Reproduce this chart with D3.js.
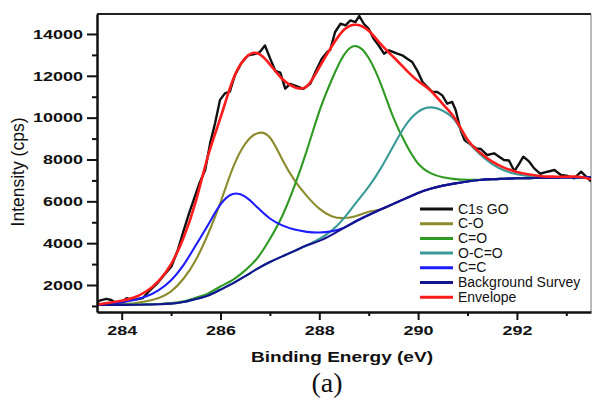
<!DOCTYPE html>
<html>
<head>
<meta charset="utf-8">
<script src="https://cdn.jsdelivr.net/npm/d3@7"></script>
<style>
  body { margin: 0; background: #fff; }
  text { font-family: Arial, "Liberation Sans", sans-serif; }
</style>
</head>
<body>
<svg id="chart" width="592" height="401"></svg>
<script>
// fitted curves share one energy grid (eV)
const energy = [283.5, 283.75, 284, 284.25, 284.5, 284.75, 285, 285.25, 285.5, 285.75,
  286, 286.25, 286.5, 286.75, 287, 287.25, 287.5, 287.75, 288, 288.25,
  288.5, 288.75, 289, 289.25, 289.5, 289.75, 290, 290.25, 290.5, 290.75,
  291, 291.25, 291.5, 291.75, 292, 292.25, 292.5, 292.75, 293, 293.25, 293.5];

const background = [1050, 1050, 1050, 1055, 1065, 1080, 1110, 1190, 1330, 1500,
  1780, 2080, 2420, 2780, 3100, 3370, 3630, 3900, 4110, 4400,
  4730, 5060, 5350, 5620, 5880, 6140, 6400, 6600, 6750, 6860,
  6950, 7020, 7060, 7080, 7100, 7110, 7120, 7130, 7140, 7145, 7150];

const cc = [1080, 1120, 1170, 1280, 1460, 1760, 2230, 2950, 3900, 4880,
  5850, 6350, 6220, 5700, 5180, 4850, 4650, 4540, 4510, 4570,
  4740, 5060, 5350, 5620, 5880, 6140, 6400, 6600, 6750, 6860,
  6950, 7020, 7060, 7080, 7100, 7110, 7120, 7130, 7140, 7145, 7150];

const co = [1060, 1070, 1090, 1130, 1220, 1380, 1700, 2300, 3200, 4450,
  5950, 7600, 8750, 9260, 9050, 8000, 7000, 6250, 5650, 5290,
  5200, 5300, 5500, 5620, 5880, 6140, 6400, 6600, 6750, 6860,
  6950, 7020, 7060, 7080, 7100, 7110, 7120, 7130, 7140, 7145, 7150];

const cdo = [1052, 1053, 1055, 1062, 1075, 1095, 1135, 1220, 1390, 1600,
  1930, 2250, 2700, 3300, 4200, 5300, 6750, 8450, 10300, 11800,
  13000, 13420, 12850, 11580, 10000, 8750, 7800, 7350, 7150, 7060,
  7030, 7030, 7060, 7080, 7100, 7110, 7120, 7130, 7140, 7145, 7150];

const occo = [1050, 1050, 1050, 1055, 1065, 1080, 1110, 1190, 1330, 1500,
  1780, 2080, 2420, 2780, 3100, 3370, 3630, 3900, 4200, 4600,
  5200, 5950, 6700, 7600, 8650, 9650, 10280, 10490, 10330, 9850,
  8900, 8250, 7780, 7470, 7290, 7200, 7160, 7145, 7145, 7148, 7150];

const envelope = [1070, 1150, 1250, 1400, 1700, 2200, 3000, 4250, 6000, 8200,
  10000, 11800, 12850, 13080, 12550, 11850, 11450, 11500, 12400, 13400,
  14200, 14440, 14150, 13500, 12900, 12300, 11750, 11300, 10650, 9950,
  8950, 8330, 7900, 7600, 7400, 7280, 7200, 7180, 7177, 7177, 7050];

// measured spectrum
const rawEnergy = [283.5, 283.55, 283.69, 283.79, 283.89, 283.99, 284.1, 284.2, 284.3, 284.43,
  284.57, 284.71, 284.85, 285.01, 285.14, 285.24, 285.36, 285.48, 285.58, 285.69,
  285.79, 285.89, 285.99, 286.09, 286.19, 286.29, 286.42, 286.56, 286.74, 286.8,
  286.9, 287.01, 287.11, 287.21, 287.31, 287.41, 287.55, 287.68, 287.82, 287.92,
  288.05, 288.16, 288.22, 288.32, 288.43, 288.53, 288.63, 288.73, 288.81, 288.9,
  289, 289.1, 289.2, 289.31, 289.41, 289.58, 289.68, 289.78, 289.88, 289.98,
  290.09, 290.19, 290.29, 290.39, 290.49, 290.59, 290.69, 290.76, 290.86, 290.94,
  291.03, 291.17, 291.27, 291.4, 291.54, 291.64, 291.74, 291.84, 291.95, 292.05,
  292.13, 292.25, 292.35, 292.47, 292.62, 292.76, 292.89, 293.03, 293.16, 293.3,
  293.4, 293.5];
const rawCounts = [1160, 1250, 1340, 1283, 1125, 1160, 1370, 1290, 1320, 1380,
  1750, 2050, 2450, 2900, 3700, 4500, 5400, 6220, 6900, 7500,
  8770, 9730, 10850, 11160, 11250, 12020, 12600, 12980, 13070, 13150,
  13450, 12800, 12230, 12150, 11390, 11620, 11500, 11380, 11630, 12180,
  12820, 13140, 13235, 14094, 14490, 14410, 14650, 14570, 14860, 14490,
  14250, 13770, 13460, 13060, 13220, 13060, 12980, 12820, 12660, 12263,
  11703, 11464, 11225, 11225, 11065, 10665, 10750, 10365, 9410, 8930,
  8773, 8534, 8500, 8214, 8295, 8134, 7975, 7950, 7440, 7817,
  8134, 7895, 7577, 7320, 7416, 7497, 7258, 7210, 7100, 7416,
  7178, 6950];

const xMajor = [284, 286, 288, 290, 292];
const xMinor = [285, 287, 289, 291, 293];
const yMajor = [2000, 4000, 6000, 8000, 10000, 12000, 14000];
const yMinor = [1000, 3000, 5000, 7000, 9000, 11000, 13000];

const legendLabels = ['C1s GO', 'C-O', 'C=O', 'O-C=O', 'C=C', 'Background Survey', 'Envelope'];
const legendColors = ['#111111', '#8c8c2c', '#2e9a22', '#3a9a98', '#1c1cff', '#14148f', '#ff1c1c'];

const L = 97, R = 591, T = 14, B = 312;
const svg = d3.select('#chart');

const x = d3.scaleLinear().domain([283.5, 293.5]).range([L, R]);
const y = d3.scaleLinear().domain([710, 14955]).range([B, T]);

svg.append('clipPath').attr('id', 'plot')
  .append('rect').attr('x', L).attr('y', T).attr('width', R - L).attr('height', B - T);

// frame
svg.append('line').attr('x1', L).attr('x2', R).attr('y1', T).attr('y2', T)
  .attr('stroke', '#222').attr('stroke-width', 2);
svg.append('line').attr('x1', R).attr('x2', R).attr('y1', T).attr('y2', B)
  .attr('stroke', '#777').attr('stroke-width', 1);

const curves = svg.append('g').attr('clip-path', 'url(#plot)');

const fitLine = d3.line()
  .x((d, i) => x(energy[i]))
  .y(d => y(d))
  .curve(d3.curveNatural);

const rawLine = d3.line()
  .x((d, i) => x(rawEnergy[i]))
  .y(d => y(d));

curves.append('path').attr('d', rawLine(rawCounts))
  .attr('fill', 'none').attr('stroke', legendColors[0]).attr('stroke-width', 2.4)
  .attr('stroke-linejoin', 'round');

const fits = [[co, 1], [cdo, 2], [occo, 3], [cc, 4], [background, 5], [envelope, 6]];
fits.forEach(([vals, k]) => {
  curves.append('path').attr('d', fitLine(vals))
    .attr('fill', 'none')
    .attr('stroke', legendColors[k])
    .attr('stroke-width', k == 6 ? 2.6 : 2.1);
});

// axes
svg.append('g').attr('transform', `translate(${L},0)`)
  .call(d3.axisLeft(y).tickValues(yMajor).tickSize(10).tickPadding(4)
    .tickSizeOuter(0).tickFormat(d3.format('d')));
svg.append('g').attr('transform', `translate(${L},0)`)
  .call(d3.axisLeft(y).tickValues(yMinor).tickSize(5).tickFormat(''))
  .select('.domain').remove();

svg.append('g').attr('transform', `translate(0,${B})`)
  .call(d3.axisBottom(x).tickValues(xMajor).tickSize(8).tickPadding(5).tickSizeOuter(0));
svg.append('g').attr('transform', `translate(0,${B})`)
  .call(d3.axisBottom(x).tickValues(xMinor).tickSize(4).tickFormat(''))
  .select('.domain').remove();

svg.selectAll('.domain').attr('stroke', '#111').attr('stroke-width', 2.5);
svg.selectAll('.tick line').attr('stroke', '#111').attr('stroke-width', 2);
svg.selectAll('.tick text')
  .attr('fill', '#111')
  .style('font-size', '13.5px')
  .style('font-weight', 'bold')
  .style('font-family', 'Arial, "Liberation Sans", sans-serif')
  .attr('textLength', function () { return this.textContent.length * 10; })
  .attr('lengthAdjust', 'spacingAndGlyphs');

// titles
svg.append('text')
  .attr('x', 342).attr('y', 362)
  .attr('text-anchor', 'middle')
  .attr('textLength', 182).attr('lengthAdjust', 'spacingAndGlyphs')
  .style('font-size', '14px').style('font-weight', 'bold')
  .attr('fill', '#111')
  .text('Binding Energy (eV)');

svg.append('text')
  .attr('transform', 'translate(24,172) rotate(-90)')
  .attr('text-anchor', 'middle')
  .style('font-size', '17.5px')
  .attr('fill', '#111')
  .text('Intensity (cps)');

svg.append('text')
  .attr('x', 327).attr('y', 392)
  .attr('text-anchor', 'middle')
  .style('font-family', '"Times New Roman", "Liberation Serif", serif')
  .style('font-size', '28px')
  .attr('fill', '#111')
  .text('(a)');

// legend
const legend = svg.append('g')
  .selectAll('g')
  .data(legendLabels)
  .enter()
  .append('g')
  .attr('transform', (d, i) => `translate(420,${209 + i * 14.7})`);

legend.append('line')
  .attr('x1', 0).attr('x2', 33)
  .attr('stroke', (d, i) => legendColors[i])
  .attr('stroke-width', 3);

legend.append('text')
  .text(d => d)
  .attr('x', 38).attr('y', 4.5)
  .style('font-size', '14px')
  .attr('fill', '#111');
</script>
</body>
</html>
